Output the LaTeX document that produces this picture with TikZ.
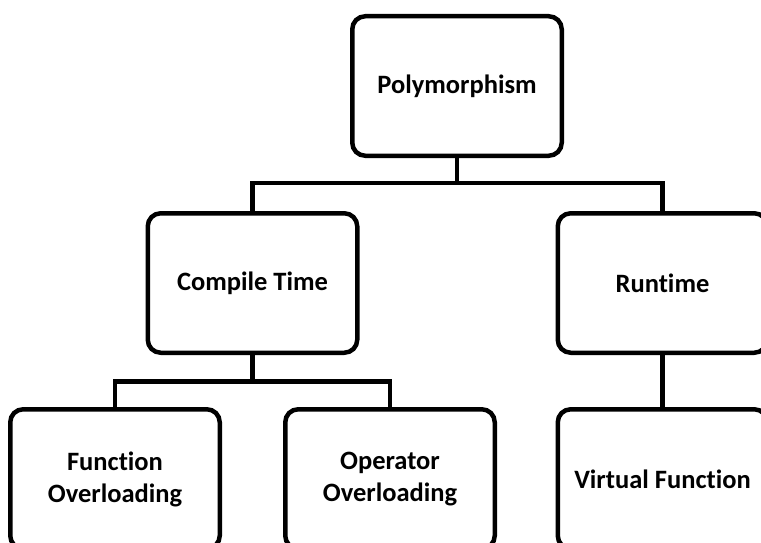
\documentclass[tikz,border=0pt]{standalone}
\usepackage{fontspec}
\setmainfont{Carlito}[Ligatures={NoCommon}]
\begin{document}
\begin{tikzpicture}[x=1pt,y=-1pt,
  box/.style={draw=black, line width=4.5pt, rounded corners=13pt, fill=white,
    minimum width=209.5pt, minimum height=139.5pt, align=center,
    font=\bfseries\fontsize{26.5}{32}\selectfont, inner sep=0pt},
  conn/.style={draw=black, line width=4.5pt}]
\useasboundingbox[fill=white] (0,0) rectangle (761,543);
\begin{scope}
\clip (0,0) rectangle (761,543);
\node[box] (poly) at (457,86) {Polymorphism};
\node[box] (ct) at (252.5,283) {Compile Time};
\node[box] (rt) at (662.5,283) {Runtime};
\node[box] (fo) at (115,479) {Function\\Overloading};
\node[box] (oo) at (390,479) {Operator\\Overloading};
\node[box] (vf) at (662.5,479) {Virtual Function};
\coordinate (j1) at (457,183);
\coordinate (j2) at (252.5,381.5);
\draw[conn] (poly.south) -- (j1);
\draw[conn] (ct.north) |- (j1) -| (rt.north);
\draw[conn] (ct.south) -- (j2);
\draw[conn] (fo.north) |- (j2) -| (oo.north);
\draw[conn] (rt.south) -- (vf.north);
\end{scope}
\end{tikzpicture}
\end{document}
